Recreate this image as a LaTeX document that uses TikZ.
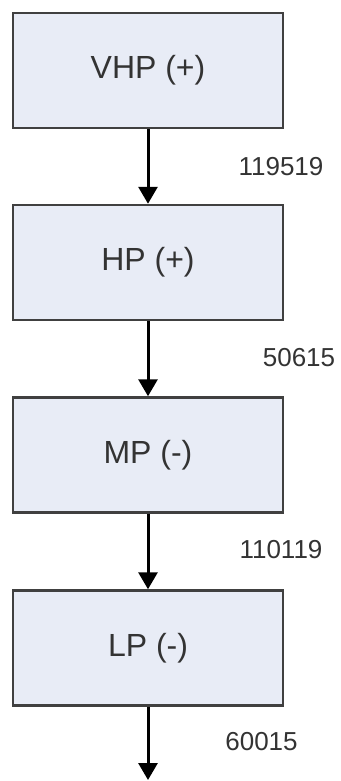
\documentclass[tikz,border=0pt]{standalone}
\usepackage{fontspec}
\setmainfont{Liberation Sans}
\usetikzlibrary{arrows.meta}
\definecolor{boxfill}{HTML}{E8ECF6}
\definecolor{boxline}{HTML}{404040}
\definecolor{txt}{HTML}{333333}
\begin{document}
\begin{tikzpicture}[x=1pt,y=-1pt,
  stage/.style={draw=boxline,fill=boxfill,line width=2.5pt,minimum width=270pt,minimum height=115pt,inner sep=0pt,font=\fontsize{32}{36}\selectfont,text=txt},
  flow/.style={draw=black,line width=3pt,-{Triangle[width=19pt,length=17pt]}},
  flowlabel/.style={font=\fontsize{26}{30}\selectfont,text=txt,inner sep=0pt}]
\useasboundingbox (0,0) rectangle (340,781);
\node[stage] (vhp) at (148,70.5) {VHP (+)};
\node[stage] (hp) at (148,262.5) {HP (+)};
\node[stage] (mp) at (148,455) {MP (-)};
\node[stage] (lp) at (148,648) {LP (-)};
\coordinate (out) at (148,780);
\draw[flow] (vhp) -- (hp);
\draw[flow] (hp) -- (mp);
\draw[flow] (mp) -- (lp);
\draw[flow] (lp) -- (out);
\node[flowlabel] (l1) at (281,167) {119519};
\node[flowlabel] (l2) at (299,358) {50615};
\node[flowlabel] (l3) at (281,550) {110119};
\node[flowlabel] (l4) at (261.5,742) {60015};
\end{tikzpicture}
\end{document}
